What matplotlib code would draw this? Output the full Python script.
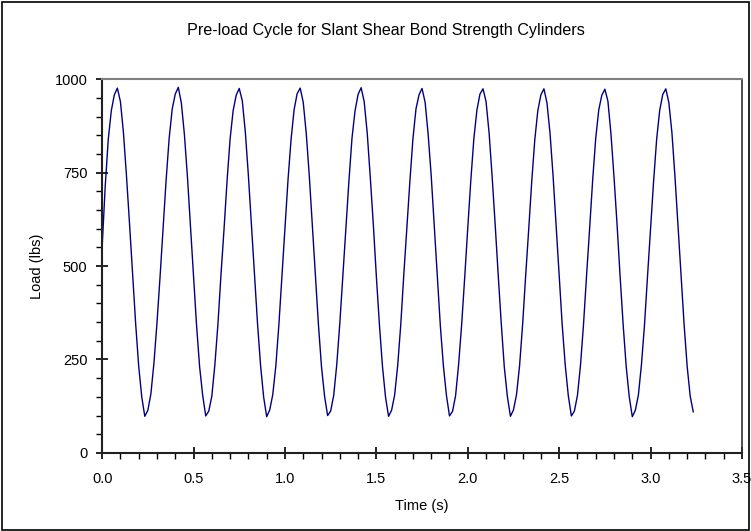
import numpy as np
import matplotlib
matplotlib.use("Agg")
import matplotlib.pyplot as plt
from matplotlib.patches import Rectangle
from matplotlib.ticker import MultipleLocator

plt.rcParams['font.family'] = ['Liberation Sans', 'DejaVu Sans']

# load readings, logged at 60 samples per second (20 per 3 Hz cycle)
sample_rate = 60
load = [
    550, 712, 838, 915, 958, 976, 940, 856, 740, 612, 478, 346, 232, 150, 98, 114, 158, 240, 348, 470,
    600, 730, 842, 920, 960, 978, 936, 852, 738, 606, 470, 340, 230, 154, 99, 112, 152, 236, 344, 476,
    598, 728, 840, 916, 957, 975, 942, 858, 742, 610, 474, 346, 234, 150, 97, 115, 156, 232, 342, 472,
    602, 730, 838, 918, 961, 976, 938, 854, 740, 608, 476, 342, 230, 152, 100, 112, 154, 236, 346, 474,
    598, 728, 842, 915, 959, 977, 940, 856, 738, 612, 472, 344, 232, 150, 98, 114, 155, 234, 342, 476,
    600, 726, 840, 920, 958, 975, 938, 852, 742, 608, 474, 340, 233, 154, 99, 111, 153, 237, 344, 470,
    602, 729, 841, 917, 960, 974, 940, 856, 739, 610, 475, 345, 229, 151, 98, 115, 156, 233, 343, 474,
    598, 727, 838, 916, 958, 974, 936, 855, 741, 607, 473, 342, 234, 153, 99, 112, 154, 235, 345, 476,
    601, 731, 842, 918, 957, 973, 941, 853, 738, 611, 472, 343, 231, 150, 97, 114, 155, 236, 342, 473,
    599, 728, 840, 917, 959, 974, 937, 857, 740, 609, 474, 344, 232, 152, 110,
]
time = np.arange(len(load)) / sample_rate

fig = plt.figure(figsize=(7.51, 5.31), dpi=100)
ax = fig.add_axes([0.136, 0.147, 0.852, 0.704])

ax.plot(time, load, color='#000080', lw=1.0)

ax.set_xlim(0, 3.5)
ax.set_ylim(0, 1000)
ax.xaxis.set_major_locator(MultipleLocator(0.5))
ax.xaxis.set_minor_locator(MultipleLocator(0.1))
ax.yaxis.set_major_locator(MultipleLocator(250))
ax.yaxis.set_minor_locator(MultipleLocator(50))
ax.xaxis.set_major_formatter(plt.FormatStrFormatter('%.1f'))

ax.tick_params(which='major', direction='inout', length=8, width=1.2, labelsize=10.5, colors='black')
ax.tick_params(which='minor', direction='out', length=4, width=1.0)
ax.tick_params(axis='x', which='major', pad=10)
ax.tick_params(axis='y', which='major', pad=6.5)

for s in ['left', 'bottom']:
    ax.spines[s].set_linewidth(1.5)
    ax.spines[s].set_color('#202020')
ax.spines['top'].set_color('#808080')
ax.spines['top'].set_linewidth(1.5)
ax.spines['right'].set_color('#303030')
ax.spines['right'].set_linewidth(1.2)

ax.set_xlabel('Time (s)', fontsize=10.5, labelpad=9)
ax.set_ylabel('Load (lbs)', fontsize=10.5, labelpad=8)
fig.text(0.514, 0.943, 'Pre-load Cycle for Slant Shear Bond Strength Cylinders',
         ha='center', va='center', fontsize=11.6)

# outer frame round the whole figure
fig.patches.append(Rectangle((0.002, 0.002), 0.996, 0.995, transform=fig.transFigure,
                             fill=False, ec='black', lw=1.2))

fig.savefig('out.png', dpi=100)
